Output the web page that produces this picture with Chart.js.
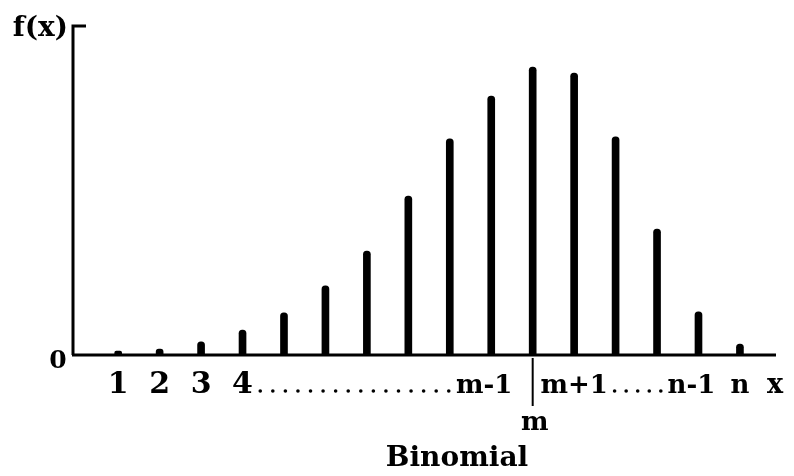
<!DOCTYPE html>
<html>
<head>
<meta charset="utf-8">
<script src="https://cdn.jsdelivr.net/npm/chart.js@4"></script>
<style>
  html, body { margin: 0; padding: 0; background: #fff; }
  #wrap { width: 794px; height: 476px; }
</style>
</head>
<body>
<div id="wrap"><canvas id="chart" width="794" height="476"></canvas></div>
<script>
// Outcome positions along the x axis (1 .. n)
const positions = [1, 2, 3, 4, 5, 6, 7, 8, 9, 10, 11, 12, 13, 14, 15, 16];
// Probability mass f(x) at each position (relative units, axis top = 1)
const fx = [0.012, 0.018, 0.040, 0.076, 0.128, 0.210, 0.316, 0.483,
            0.657, 0.787, 0.875, 0.857, 0.663, 0.383, 0.131, 0.033];
// Label written under each position ('' = no label)
const tickLabels = ['1', '2', '3', '4', '', '', '', '', '',
                    'm-1', '', 'm+1', '', '', 'n-1', 'n'];
// The mode position, marked with a separate label below the axis
const modeIndex = 10;
const modeLabel = 'm';
// Runs of dots between labelled positions: [from index, to index]
const dotRuns = [[3, 9], [11, 14]];
const xAxisTitle = 'x';
const yAxisTitle = 'f(x)';
const zeroLabel = '0';
const caption = 'Binomial';

const SERIF = '"DejaVu Serif", "Liberation Serif", serif';

const axesAndText = {
  id: 'axesAndText',
  afterDatasetsDraw(chart) {
    const { ctx, chartArea, scales } = chart;
    const xs = scales.x, ys = scales.y;
    const y0 = ys.getPixelForValue(0);
    const yTop = chartArea.top;
    const left = chartArea.left, right = chartArea.right;

    ctx.save();
    ctx.strokeStyle = '#000';
    ctx.fillStyle = '#000';
    ctx.lineCap = 'butt';

    // vertical axis with short cap at its top
    ctx.lineWidth = 3;
    ctx.beginPath();
    ctx.moveTo(left, y0);
    ctx.lineTo(left, yTop);
    ctx.lineTo(left + 13, yTop);
    ctx.stroke();

    // horizontal axis
    ctx.beginPath();
    ctx.moveTo(left - 1, y0);
    ctx.lineTo(right, y0);
    ctx.stroke();

    // axis titles
    ctx.textBaseline = 'alphabetic';
    ctx.font = 'bold 28px ' + SERIF;
    ctx.textAlign = 'right';
    ctx.fillText(yAxisTitle, left - 5, yTop + 10);
    ctx.font = 'bold 25px ' + SERIF;
    ctx.textAlign = 'center';
    ctx.fillText(zeroLabel, left - 15, y0 + 13);

    // tick labels under the positions; compound labels sit a little left
    const labelY = 393;
    const isDigit = t => /^[0-9]$/.test(t);
    const fontFor = t => (isDigit(t) ? 'bold 30px ' : 'bold 26px ') + SERIF;
    const shiftFor = t => (t.length === 3 && t[1] === '-') ? -7 : 0;
    const extent = [];
    tickLabels.forEach((t, i) => {
      if (!t) return;
      const px = xs.getPixelForValue(positions[i]) + shiftFor(t);
      ctx.font = fontFor(t);
      ctx.textAlign = 'center';
      ctx.fillText(t, px, labelY);
      const w = ctx.measureText(t).width;
      extent[i] = [px - w / 2, px + w / 2];
    });

    // dotted runs filling the gap between two labels
    dotRuns.forEach(([a, b]) => {
      const start = extent[a][1] + 1;
      const end = extent[b][0] - 1;
      const n = Math.max(1, Math.round((end - start) / 12.5));
      const step = (end - start) / n;
      for (let k = 0; k < n; k++) {
        ctx.beginPath();
        ctx.arc(start + step * (k + 0.5), labelY - 2, 1.8, 0, Math.PI * 2);
        ctx.fill();
      }
    });

    // mode marker: short vertical stroke and its label
    const pm = xs.getPixelForValue(positions[modeIndex]);
    ctx.lineWidth = 2;
    ctx.beginPath();
    ctx.moveTo(pm, y0 + 3);
    ctx.lineTo(pm, y0 + 51);
    ctx.stroke();
    ctx.font = 'bold 26px ' + SERIF;
    ctx.textAlign = 'center';
    ctx.fillText(modeLabel, pm + 2, 430);

    // x axis title
    ctx.font = 'bold 27px ' + SERIF;
    ctx.fillText(xAxisTitle, 775, labelY);

    // caption
    ctx.font = 'bold 28px ' + SERIF;
    ctx.fillText(caption, 457, 466);

    ctx.restore();
  }
};

new Chart(document.getElementById('chart'), {
  type: 'bar',
  data: {
    datasets: [{
      data: positions.map((p, i) => ({ x: p, y: fx[i] })),
      backgroundColor: '#000',
      borderWidth: 0,
      barThickness: 7,
      borderRadius: { topLeft: 4, topRight: 4, bottomLeft: 0, bottomRight: 0 },
      borderSkipped: 'bottom'
    }]
  },
  options: {
    responsive: false,
    animation: false,
    layout: { padding: { left: 73, right: 18, top: 26, bottom: 121 } },
    scales: {
      x: { type: 'linear', min: -0.09, max: 16.87, offset: false, display: false },
      y: { min: 0, max: 1, display: false }
    },
    plugins: {
      legend: { display: false },
      tooltip: { enabled: false }
    }
  },
  plugins: [axesAndText]
});
</script>
</body>
</html>
